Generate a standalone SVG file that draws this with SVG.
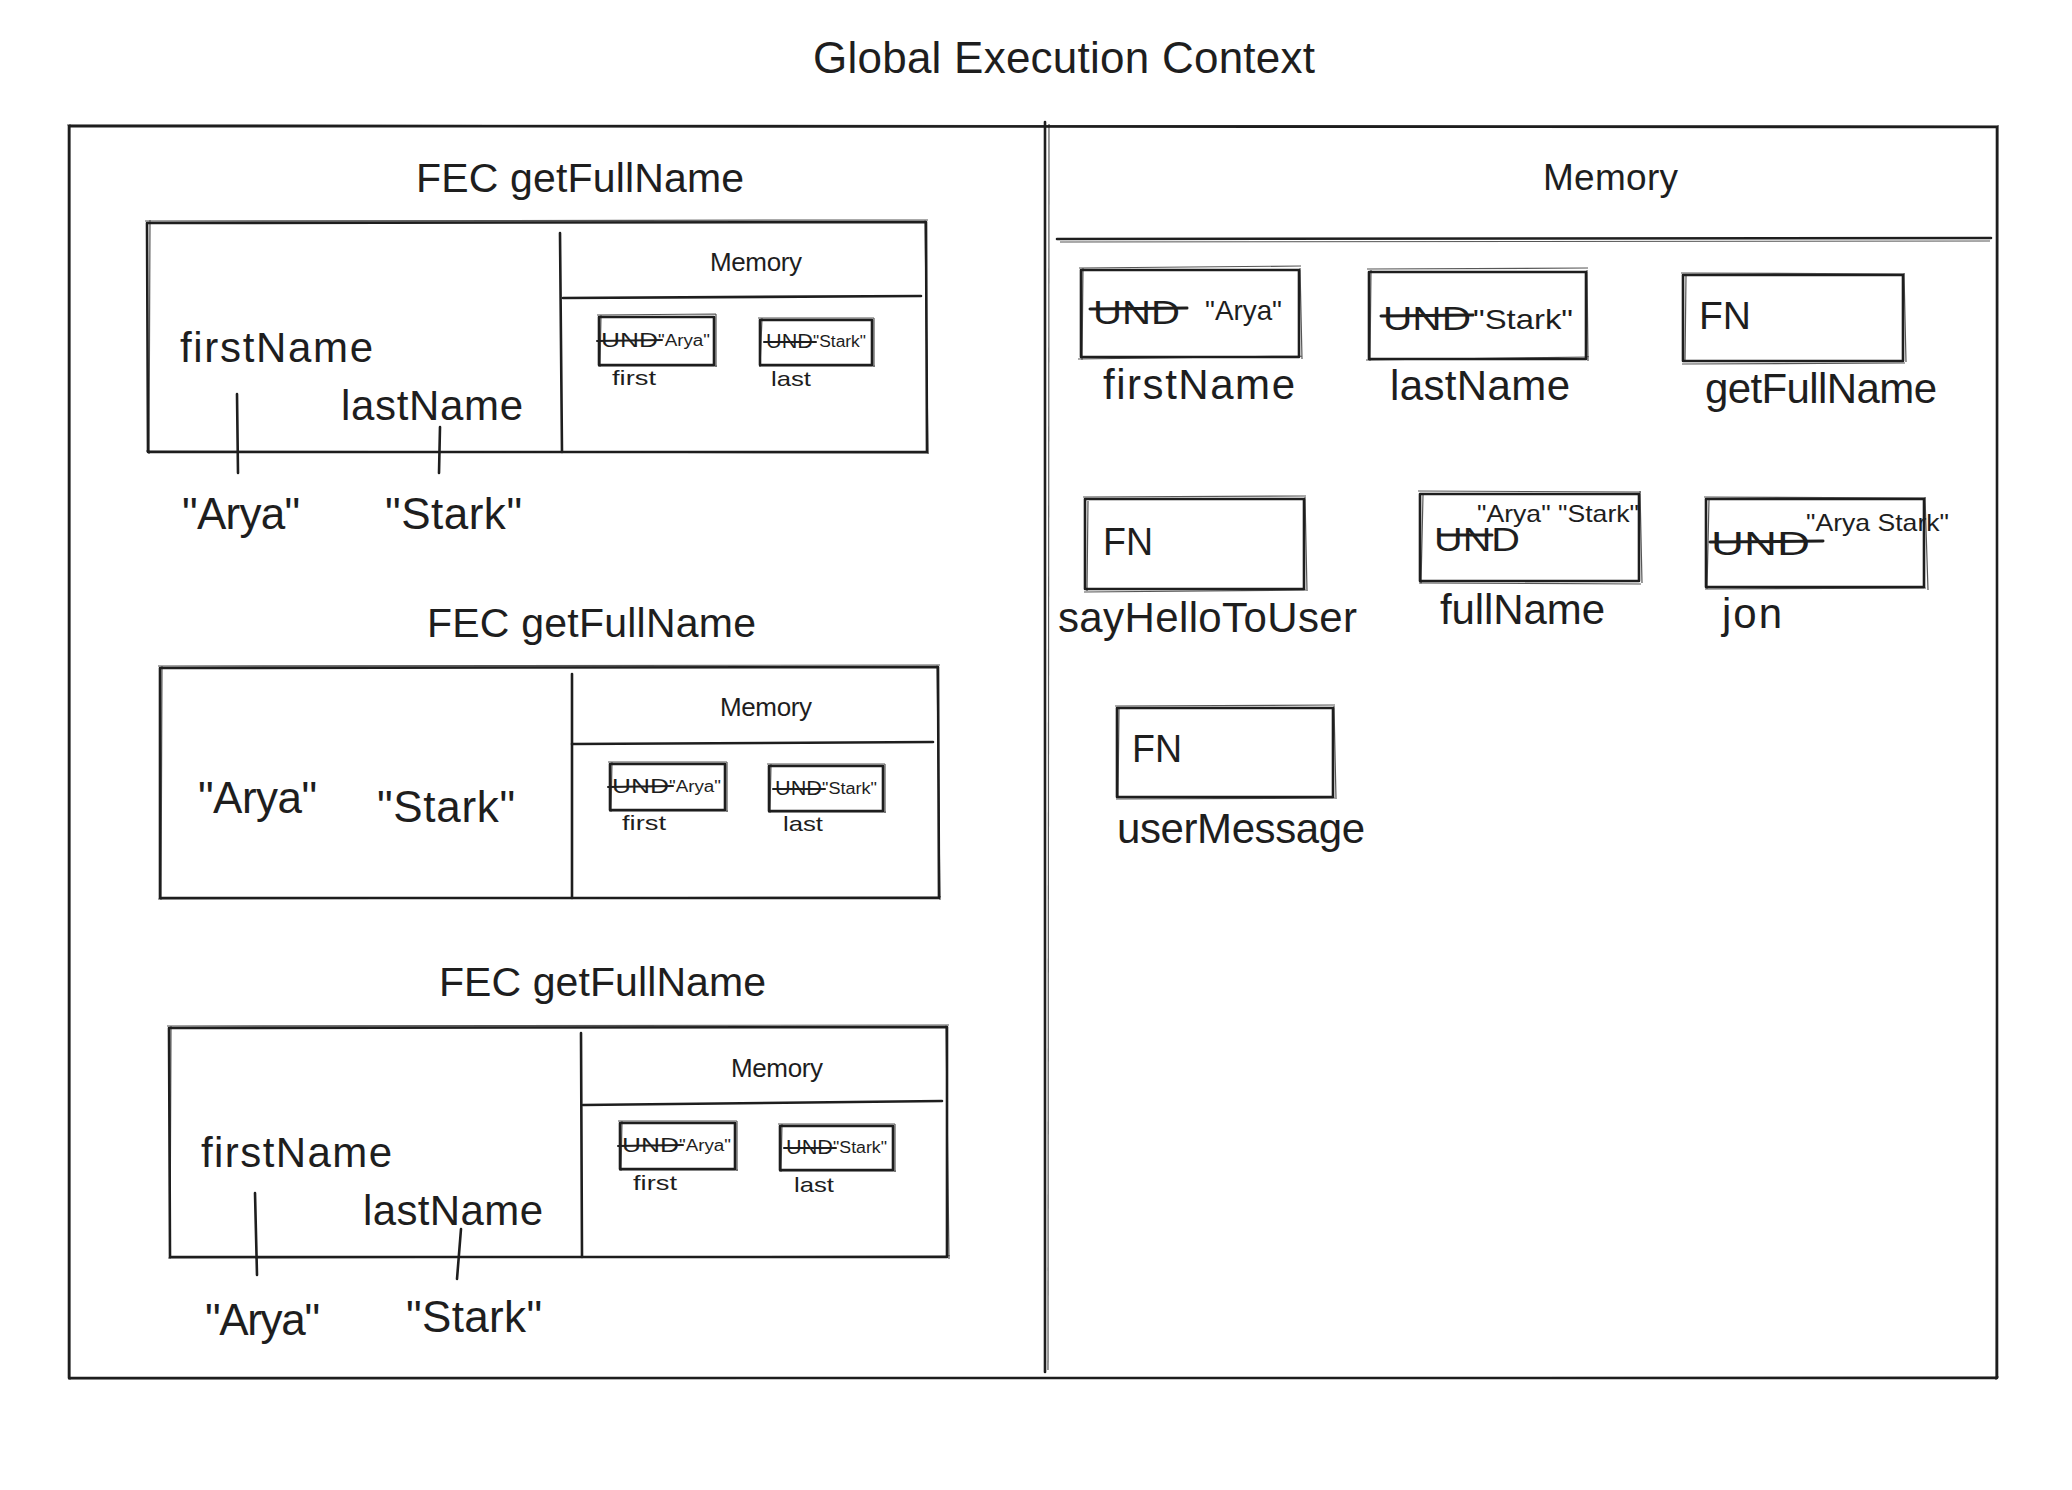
<svg xmlns="http://www.w3.org/2000/svg" width="2072" height="1490" viewBox="0 0 2072 1490">
<style>
text{font-family:"Liberation Sans","Noto Sans",sans-serif;fill:#1e1e1e}
.box{fill:none;stroke:#1e1e1e;stroke-width:2.6;stroke-linejoin:round}
.sk{fill:none;stroke:#1e1e1e;stroke-width:1.2;opacity:.75}
.ln{fill:none;stroke:#1e1e1e;stroke-width:2.6;stroke-linecap:round}
.st{fill:none;stroke:#1e1e1e;stroke-width:3;stroke-linecap:round}
.sts{fill:none;stroke:#1e1e1e;stroke-width:2;stroke-linecap:round}
.title{font-size:44px}
.head{font-size:41px}
.rhead{font-size:37px}
.lbl{font-size:42px}
.quote{font-size:44px}
.mem{font-size:26px}
.tiny{font-size:21px}
.und{font-size:34px}
.val{font-size:28px}
.fn{font-size:38px}
.sv{font-size:24px}
.sund{font-size:20px}
.sval{font-size:16px}
</style>
<rect width="2072" height="1490" fill="#ffffff"/>

<g id="title">
<text class="title" x="813" y="73" textLength="502">Global Execution Context</text>
</g>

<g id="global-frame">
<path class="box" d="M69 126 L1997 127 L1997 1378 L69 1378 Z"/>
<path class="sk" d="M67 125 L1999 126 M1998 125 L1996 1380 M1999 1377 L68 1379 M70 1380 L70 124"/>
<path class="ln" d="M1045 122 L1045 1372"/>
<path class="sk" d="M1049 124 L1048 1370"/>
</g>

<g id="global-memory">
<text class="rhead" x="1543" y="190" textLength="135">Memory</text>
<path class="ln" d="M1057 239 L1991 238"/>
<path class="sk" d="M1060 242 L1990 241"/>
</g>

<!-- Global memory nodes -->
<g id="gm-firstName">
<rect class="box" x="1081" y="270" width="218" height="87"/>
<path class="sk" d="M1079 268 L1301 266 M1300 268 L1302 359 M1302 356 L1078 359 M1083 268 L1082 360"/>
<text class="und" x="1093" y="324" textLength="87" lengthAdjust="spacingAndGlyphs">UND</text>
<path class="st" d="M1090 309 L1187 308"/>
<text class="val" x="1205" y="320" textLength="77" lengthAdjust="spacingAndGlyphs">"Arya"</text>
<text class="lbl" x="1103" y="399" textLength="192">firstName</text>
</g>

<g id="gm-lastName">
<rect class="box" x="1369" y="272" width="217" height="87"/>
<path class="sk" d="M1367 269 L1588 268 M1587 270 L1588 361 M1589 357 L1366 360 M1371 270 L1370 361"/>
<text class="und" x="1383" y="330" textLength="88" lengthAdjust="spacingAndGlyphs">UND</text>
<path class="st" d="M1381 316 L1473 315"/>
<text class="val" x="1473" y="329" textLength="100" lengthAdjust="spacingAndGlyphs">"Stark"</text>
<text class="lbl" x="1390" y="400" textLength="180">lastName</text>
</g>

<g id="gm-getFullName">
<rect class="box" x="1683" y="275" width="220" height="86"/>
<path class="sk" d="M1681 273 L1905 274 M1904 273 L1906 362 M1905 363 L1682 364 M1686 276 L1685 362"/>
<text class="fn" x="1699" y="329" textLength="52" lengthAdjust="spacingAndGlyphs">FN</text>
<text class="lbl" x="1705" y="403" textLength="232">getFullName</text>
</g>

<g id="gm-sayHelloToUser">
<rect class="box" x="1085" y="499" width="219" height="90"/>
<path class="sk" d="M1083 497 L1306 496 M1305 497 L1307 591 M1306 590 L1084 592 M1088 501 L1087 591"/>
<text class="fn" x="1103" y="555" textLength="50" lengthAdjust="spacingAndGlyphs">FN</text>
<text class="lbl" x="1058" y="632" textLength="299">sayHelloToUser</text>
</g>

<g id="gm-fullName">
<rect class="box" x="1420" y="494" width="219" height="87"/>
<path class="sk" d="M1418 491 L1641 492 M1640 491 L1642 583 M1641 584 L1419 583 M1423 495 L1421 584"/>
<text class="und" x="1434" y="551" textLength="86" lengthAdjust="spacingAndGlyphs">UND</text>
<path class="st" d="M1440 535 L1492 535"/>
<text class="sv" x="1477" y="522" textLength="162" lengthAdjust="spacingAndGlyphs">"Arya" "Stark"</text>
<text class="lbl" x="1440" y="624" textLength="165">fullName</text>
</g>

<g id="gm-jon">
<rect class="box" x="1706" y="499" width="218" height="88"/>
<path class="sk" d="M1704 497 L1926 498 M1925 497 L1928 590 M1926 588 L1705 589 M1709 500 L1707 589"/>
<text class="und" x="1711" y="555" textLength="99" lengthAdjust="spacingAndGlyphs">UND</text>
<path class="st" d="M1710 542 L1823 541"/>
<text class="sv" x="1806" y="531" textLength="143" lengthAdjust="spacingAndGlyphs">"Arya Stark"</text>
<text class="lbl" x="1722" y="628" textLength="60">jon</text>
</g>

<g id="gm-userMessage">
<rect class="box" x="1117" y="708" width="216" height="89"/>
<path class="sk" d="M1115 706 L1335 705 M1334 706 L1336 799 M1335 798 L1116 799 M1119 709 L1118 798"/>
<text class="fn" x="1132" y="762" textLength="50" lengthAdjust="spacingAndGlyphs">FN</text>
<text class="lbl" x="1117" y="843" textLength="248">userMessage</text>
</g>

<!-- FEC panel 1 -->
<g id="fec1">
<text class="head" x="416" y="192" textLength="328">FEC getFullName</text>
<path class="box" d="M147 223 L926 222 L927 452 L148 452 Z"/>
<path class="sk" d="M145 221 L928 220 M925 220 L928 454 M929 453 L146 451 M150 220 L149 454"/>
<path class="ln" d="M560 233 L562 452"/>
<text class="mem" x="710" y="271" textLength="92">Memory</text>
<path class="ln" d="M563 298 L921 296"/>
<text class="lbl" x="180" y="362" textLength="193">firstName</text>
<text class="lbl" x="341" y="420" textLength="182">lastName</text>
</g>
<g id="fec1-arya"><text class="quote" x="182" y="529" textLength="118">"Arya"</text></g>
<g id="fec1-stark"><text class="quote" x="385" y="529" textLength="137">"Stark"</text></g>
<g id="fec1-first">
<rect class="box" x="599" y="317" width="115" height="48"/>
<path class="sk" d="M597 315 L716 314 M716 314 L716 367 M717 366 L598 366 M601 315 L600 367"/>
<text class="sund" x="601" y="347" textLength="57" lengthAdjust="spacingAndGlyphs">UND</text>
<path class="sts" d="M597 341 L662 340"/>
<text class="sval" x="658" y="346" textLength="52" lengthAdjust="spacingAndGlyphs">"Arya"</text>
<text class="tiny" x="612" y="385" textLength="44" lengthAdjust="spacingAndGlyphs">first</text>
</g>
<g id="fec1-last">
<rect class="box" x="760" y="320" width="112" height="45"/>
<path class="sk" d="M758 318 L874 318 M874 318 L874 367 M875 366 L759 366 M762 318 L760 367"/>
<text class="sund" x="766" y="348" textLength="47" lengthAdjust="spacingAndGlyphs">UND</text>
<path class="sts" d="M764 342 L816 342"/>
<text class="sval" x="813" y="347" textLength="53" lengthAdjust="spacingAndGlyphs">"Stark"</text>
<text class="tiny" x="771" y="386" textLength="40" lengthAdjust="spacingAndGlyphs">last</text>
</g>

<!-- FEC panel 2 -->
<g id="fec2">
<text class="head" x="427" y="637" textLength="329">FEC getFullName</text>
<path class="box" d="M160 668 L938 667 L939 898 L160 898 Z"/>
<path class="sk" d="M158 666 L940 665 M937 665 L940 900 M941 897 L158 899 M162 666 L161 900"/>
<path class="ln" d="M572 674 L572 898"/>
<text class="mem" x="720" y="716" textLength="92">Memory</text>
<path class="ln" d="M572 744 L933 742"/>
<text class="quote" x="198" y="813" textLength="119">"Arya"</text>
<text class="quote" x="377" y="822" textLength="138">"Stark"</text>
</g>
<g id="fec2-first">
<rect class="box" x="610" y="764" width="115" height="46"/>
<path class="sk" d="M608 762 L727 762 M727 762 L727 812 M728 811 L609 811 M612 762 L611 812"/>
<text class="sund" x="612" y="793" textLength="57" lengthAdjust="spacingAndGlyphs">UND</text>
<path class="sts" d="M608 787 L673 786"/>
<text class="sval" x="669" y="792" textLength="52" lengthAdjust="spacingAndGlyphs">"Arya"</text>
<text class="tiny" x="622" y="830" textLength="44" lengthAdjust="spacingAndGlyphs">first</text>
</g>
<g id="fec2-last">
<rect class="box" x="769" y="766" width="114" height="45"/>
<path class="sk" d="M767 764 L885 764 M885 764 L885 813 M886 812 L768 812 M771 764 L770 813"/>
<text class="sund" x="775" y="795" textLength="47" lengthAdjust="spacingAndGlyphs">UND</text>
<path class="sts" d="M773 789 L825 789"/>
<text class="sval" x="822" y="794" textLength="55" lengthAdjust="spacingAndGlyphs">"Stark"</text>
<text class="tiny" x="783" y="831" textLength="40" lengthAdjust="spacingAndGlyphs">last</text>
</g>

<!-- FEC panel 3 -->
<g id="fec3">
<text class="head" x="439" y="996" textLength="327">FEC getFullName</text>
<path class="box" d="M169 1028 L947 1027 L947 1257 L170 1257 Z"/>
<path class="sk" d="M167 1026 L949 1025 M946 1025 L949 1259 M950 1256 L168 1258 M171 1026 L170 1259"/>
<path class="ln" d="M581 1033 L582 1257"/>
<text class="mem" x="731" y="1077" textLength="92">Memory</text>
<path class="ln" d="M583 1105 L942 1101"/>
<text class="lbl" x="201" y="1167" textLength="191">firstName</text>
<text class="lbl" x="363" y="1225" textLength="180">lastName</text>
</g>
<g id="fec3-arya"><text class="quote" x="205" y="1335" textLength="115">"Arya"</text></g>
<g id="fec3-stark"><text class="quote" x="406" y="1332" textLength="136">"Stark"</text></g>
<g id="fec3-first">
<rect class="box" x="620" y="1123" width="115" height="46"/>
<path class="sk" d="M618 1121 L737 1121 M737 1121 L737 1171 M738 1170 L619 1170 M622 1121 L621 1171"/>
<text class="sund" x="622" y="1152" textLength="57" lengthAdjust="spacingAndGlyphs">UND</text>
<path class="sts" d="M618 1146 L683 1145"/>
<text class="sval" x="679" y="1151" textLength="52" lengthAdjust="spacingAndGlyphs">"Arya"</text>
<text class="tiny" x="633" y="1190" textLength="44" lengthAdjust="spacingAndGlyphs">first</text>
</g>
<g id="fec3-last">
<rect class="box" x="780" y="1126" width="113" height="44"/>
<path class="sk" d="M778 1124 L895 1124 M895 1124 L895 1172 M896 1171 L779 1171 M782 1124 L781 1172"/>
<text class="sund" x="786" y="1154" textLength="47" lengthAdjust="spacingAndGlyphs">UND</text>
<path class="sts" d="M784 1148 L836 1148"/>
<text class="sval" x="833" y="1153" textLength="54" lengthAdjust="spacingAndGlyphs">"Stark"</text>
<text class="tiny" x="794" y="1192" textLength="40" lengthAdjust="spacingAndGlyphs">last</text>
</g>

<g id="connectors">
<path class="ln" d="M237 394 L238 473"/>
<path class="ln" d="M440 427 L439 473"/>
<path class="ln" d="M255 1193 L257 1275"/>
<path class="ln" d="M461 1229 L457 1279"/>
</g>
</svg>
